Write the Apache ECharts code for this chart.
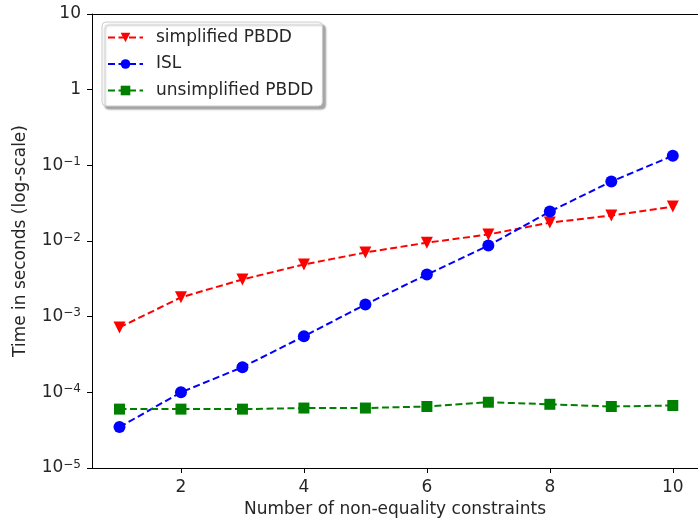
<!DOCTYPE html>
<html><head><meta charset="utf-8">
<script src="https://cdn.jsdelivr.net/npm/echarts@6/dist/echarts.min.js"></script>
<style>html,body{margin:0;padding:0;background:#fff}#c{width:698px;height:523px}</style>
</head><body><div id="c"></div>
<script>
const xValues = [1, 2, 3, 4, 5, 6, 7, 8, 9, 10];
const simplifiedPBDD = [7.2e-4, 1.8e-3, 3.1e-3, 4.9e-3, 7.05e-3, 9.5e-3, 1.22e-2, 1.75e-2, 2.17e-2, 2.85e-2];
const isl = [3.47e-5, 1.0e-4, 2.15e-4, 5.5e-4, 1.45e-3, 3.6e-3, 8.7e-3, 2.45e-2, 6.1e-2, 0.134];
const unsimplifiedPBDD = [6.0e-5, 6.0e-5, 6.0e-5, 6.2e-5, 6.2e-5, 6.5e-5, 7.4e-5, 6.95e-5, 6.5e-5, 6.7e-5];
const xTicks = [2, 4, 6, 8, 10];
const yTicks = [1e-5, 1e-4, 1e-3, 1e-2, 1e-1, 1, 10];
const names = ['simplified PBDD', 'ISL', 'unsimplified PBDD'];

const FONT = 'DejaVu Sans';
const FS = 17;
const TXT = '#262626';
const pairs = a => a.map((v, i) => [xValues[i], v]);
function yLabel(v) {
  const e = Math.round(Math.log10(v));
  if (e === 0) return '{b|1}';
  if (e === 1) return '{b|10}';
  return '{b|10}{s|\u2212' + (-e) + '}';
}
const chart = echarts.init(document.getElementById('c'));
const dash = [7, 3.5];
chart.setOption({
  animation: false,
  textStyle: { fontFamily: FONT },
  grid: { left: 92, right: 0, top: 14, bottom: 54 },
  legend: {
    orient: 'vertical', left: 102, top: 22,
    itemWidth: 35, itemHeight: 12, itemGap: 9.5,
    padding: [7, 9, 7, 5],
    backgroundColor: '#fff', borderColor: '#cccccc', borderWidth: 1, borderRadius: 4,
    shadowColor: 'rgba(0,0,0,0.35)', shadowBlur: 2, shadowOffsetX: 3, shadowOffsetY: 3,
    textStyle: { fontFamily: FONT, fontSize: FS, lineHeight: 17, color: TXT, padding: [0, 0, 0, 8] },
    data: names
  },
  xAxis: [{
    type: 'value', min: 0.553, max: 10.41,
    axisLine: { lineStyle: { color: '#000', width: 1 } },
    splitLine: { show: false },
    axisTick: { show: true, length: 5, customValues: xTicks, lineStyle: { color: '#000' } },
    axisLabel: { customValues: xTicks, fontFamily: FONT, fontSize: FS, color: TXT, margin: 11 },
    name: 'Number of non-equality constraints', nameLocation: 'middle', nameGap: 33,
    nameTextStyle: { fontFamily: FONT, fontSize: FS, color: TXT }
  }, {
    type: 'value', position: 'top', min: 0.553, max: 10.41,
    axisLine: { show: true, lineStyle: { color: '#000', width: 1 } },
    axisTick: { show: false }, axisLabel: { show: false }, splitLine: { show: false }
  }],
  yAxis: {
    type: 'log', logBase: 10, min: 1e-5, max: 10,
    axisLine: { show: true, lineStyle: { color: '#000', width: 1 } },
    splitLine: { show: false }, minorTick: { show: false },
    axisTick: { show: true, length: 5, lineStyle: { color: '#000' } },
    axisLabel: {
      fontFamily: FONT, color: TXT, margin: 11,
      formatter: yLabel,
      rich: {
        b: { fontFamily: FONT, fontSize: FS, color: TXT },
        s: { fontFamily: FONT, fontSize: 12, color: TXT, verticalAlign: 'top', padding: [0, 0, 7, 0] }
      }
    },
    name: 'Time in seconds (log-scale)', nameLocation: 'middle', nameGap: 63,
    nameTextStyle: { fontFamily: FONT, fontSize: FS, color: TXT }
  },
  series: [
    { name: names[0], type: 'line', data: pairs(simplifiedPBDD), color: '#ff0000',
      symbol: 'triangle', symbolRotate: 180, symbolSize: 12, showAllSymbol: true,
      lineStyle: { type: dash, width: 2 }, itemStyle: { color: '#ff0000' } },
    { name: names[1], type: 'line', data: pairs(isl), color: '#0000ff',
      symbol: 'circle', symbolSize: 12, showAllSymbol: true,
      lineStyle: { type: dash, width: 2 }, itemStyle: { color: '#0000ff' } },
    { name: names[2], type: 'line', data: pairs(unsimplifiedPBDD), color: '#008000',
      symbol: 'rect', symbolSize: 11, showAllSymbol: true,
      lineStyle: { type: dash, width: 2 }, itemStyle: { color: '#008000' } }
  ]
});
</script></body></html>
